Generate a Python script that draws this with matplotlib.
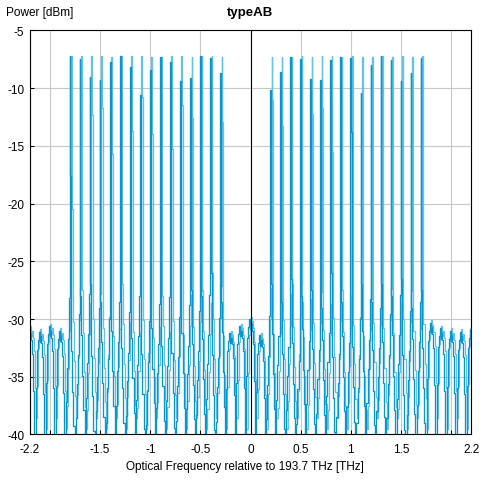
import numpy as np
import matplotlib
matplotlib.use("Agg")
import matplotlib.pyplot as plt

plt.rcParams['font.family'] = ['Liberation Sans', 'DejaVu Sans']

# channel grid (THz, relative to 193.7 THz), 0.1 THz spacing
grid = [round(-2.2 + 0.1 * i, 1) for i in range(45)]
left_band = [round(-1.8 + 0.1 * i, 1) for i in range(16)]
right_band = [round(0.2 + 0.1 * i, 1) for i in range(16)]

# peak levels of the lit channels [dBm], series A (dark) and B (light)
peak_a_left = [-7.2, -7.5, -9.0, -9.3, -7.7, -7.2, -8.2, -10.6, -8.4, -7.3, -7.7, -9.4, -9.1, -7.2, -7.4, -8.7]
peak_b_left = [-7.2, -7.2, -7.2, -7.2, -7.3, -7.2, -7.2, -7.2, -7.3, -7.3, -7.2, -7.2, -7.3, -7.2, -7.2, -7.3]
shoulder_a_left = [-17.6, -28.0, -27.0, -28.5, -26.0, -29.0, -27.5, -28.0, -26.5, -28.5, -27.0, -29.0, -27.5, -28.0, -26.0, -28.5]
shoulder_b_left = [-20.5, -27.5, -12.3, -11.7, -15.7, -27.0, -13.7, -10.8, -14.0, -28.0, -15.3, -11.5, -12.6, -27.5, -26.0, -12.9]
peak_a_right = [-10.2, -8.6, -7.3, -7.5, -9.2, -9.3, -7.6, -7.3, -7.4, -10.4, -8.0, -7.2, -7.6, -9.4, -8.7, -7.4]
peak_b_right = [-7.3, -7.3, -7.3, -7.2, -7.3, -7.2, -7.2, -7.3, -7.2, -7.3, -7.3, -7.2, -7.3, -7.2, -7.3, -7.2]
shoulder_a_right = [-27.0, -28.5, -26.5, -28.0, -27.5, -29.0, -26.0, -28.5, -13.8, -27.0, -28.5, -27.0, -28.0, -26.5, -29.0, -27.5]
shoulder_b_right = [-11.0, -13.3, -27.0, -28.5, -12.2, -11.7, -15.5, -27.5, -26.5, -10.7, -14.0, -28.0, -15.4, -11.5, -12.4, -27.0]
# level shift of the lower skirts, per lit channel [dB]
skirt_shift_left = [0.8, -0.6, 1.2, 0.0, -1.0, 0.5, -0.4, 1.0, -1.2, 0.3, 0.9, -0.8, 0.2, -0.3, 1.1, -0.9]
skirt_shift_right = [-0.7, 1.0, 0.1, -1.1, 0.6, -0.2, 1.3, -0.5, 0.4, -1.0, 0.7, 0.0, -0.6, 1.1, -0.3, 0.5]

# noise humps of the unlit channels [dBm]
dark_freqs = [-2.2, -2.1, -2.0, -1.9, -0.2, -0.1, 0.0, 0.1, 1.8, 1.9, 2.0, 2.1, 2.2]
hump_levels = [-31.2, -31.5, -31.0, -31.4, -31.6, -31.0, -30.4, -31.8, -30.7, -31.2, -31.4, -31.5, -31.3]

# sample profile around a channel
sample_offsets = [-0.05, -0.038, -0.027, -0.016, -0.006, 0.0, 0.006, 0.016, 0.027, 0.038]
skirt_left_a = [-38.0, -35.0, -32.5, -29.0]
skirt_left_b = [-37.0, -33.8, -30.5, -27.8]
skirt_right_a = [-32.0, -35.5, -38.5]
skirt_right_b = [-30.8, -34.2, -37.2]
hump_shape = [-4.5, -1.2, -0.3, 0.4, -0.5, 0.0, -0.6, -1.8]
valley_a = -41.0
valley_b = [-39.5, -38.6]


def build(series):
    peaks = {}
    if series == 'a':
        pl, sl, pr, sr = peak_a_left, shoulder_a_left, peak_a_right, shoulder_a_right
        sk_l, sk_r = skirt_left_a, skirt_right_a
        sgn = 1.0
    else:
        pl, sl, pr, sr = peak_b_left, shoulder_b_left, peak_b_right, shoulder_b_right
        sk_l, sk_r = skirt_left_b, skirt_right_b
        sgn = -0.7
    for i, f in enumerate(left_band):
        peaks[f] = (pl[i], sl[i], skirt_shift_left[i] * sgn)
    for i, f in enumerate(right_band):
        peaks[f] = (pr[i], sr[i], skirt_shift_right[i] * sgn)
    humps = dict(zip(dark_freqs, hump_levels))
    xs, ys = [], []
    for k, f in enumerate(grid):
        v = valley_a if series == 'a' else valley_b[k % 2]
        if f in peaks:
            pk, sh, d = peaks[f]
            prof = [v] + [s + d for s in sk_l] + [pk, sh] + [s - d for s in sk_r]
        else:
            h = humps[f] + (0.2 if series == 'b' else 0.0)
            prof = [v] + [h + d for d in hump_shape] + [h - 5.0]
        for off, p in zip(sample_offsets, prof):
            xs.append(f + off)
            ys.append(p)
    return np.array(xs), np.array(ys)


xa, ya = build('a')
xb, yb = build('b')

fig = plt.figure(figsize=(4.81, 4.81), dpi=100)
ax = fig.add_axes([0.0624, 0.0946, 0.917, 0.840])

ax.plot(xb + 0.014, yb, color='#66c2e4', lw=0.95, drawstyle='steps-mid')
ax.plot(xa, ya, color='#0896cc', lw=0.95, drawstyle='steps-mid')
ax.axvline(0, color='black', lw=0.8)

ax.set_xlim(-2.2, 2.2)
ax.set_ylim(-40, -5)
xt = [-2.2, -2, -1.5, -1, -0.5, 0, 0.5, 1, 1.5, 2, 2.2]
ax.set_xticks(xt)
ax.set_xticklabels(['-2.2', '', '-1.5', '-1', '-0.5', '0', '0.5', '1', '1.5', '', '2.2'])
ax.set_yticks([-5, -10, -15, -20, -25, -30, -35, -40])
ax.set_yticklabels(['-5', '-10', '-15', '-20', '-25', '-30', '-35', '-40'])
ax.tick_params(direction='in', length=3, width=0.75, labelsize=8.5, colors='black')
ax.tick_params(axis='x', pad=6)
ax.tick_params(axis='y', pad=4)
ax.grid(True, color='#c8c8c8', lw=0.8)
ax.set_axisbelow(True)
for s in ax.spines.values():
    s.set_linewidth(0.8)

fig.text(0.012, 0.972, 'Power [dBm]', fontsize=8.5, va='center', ha='left')
fig.text(0.52, 0.972, 'typeAB', fontsize=9.5, fontweight='bold', va='center', ha='center')
fig.text(0.51, 0.029, 'Optical Frequency relative to 193.7 THz [THz]', fontsize=8.5,
         va='center', ha='center')

fig.savefig('out.png', dpi=100)
